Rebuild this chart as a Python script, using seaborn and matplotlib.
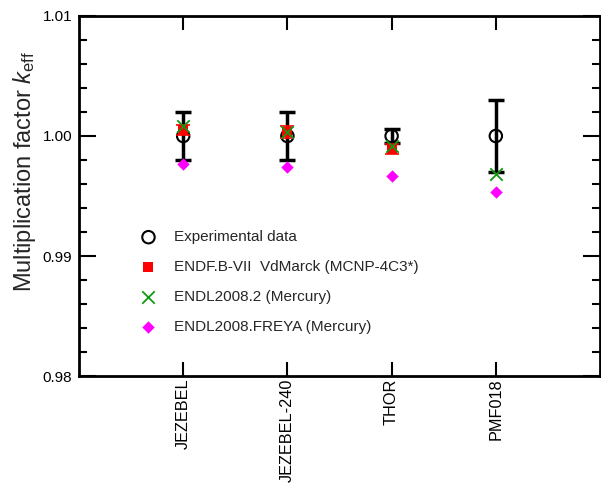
import numpy as np
import matplotlib
matplotlib.use("Agg")
import matplotlib.pyplot as plt
from matplotlib.ticker import MultipleLocator
import seaborn as sns

benchmarks = ["JEZEBEL", "JEZEBEL-240", "THOR", "PMF018"]

exp_keff = [1.0000, 1.0000, 1.0000, 1.0000]
exp_err = [0.0020, 0.0020, 0.0006, 0.0030]

endf_keff = [1.0005, 1.0003, 0.9989, np.nan]
endf_err = [0.0004, 0.0005, 0.0004, np.nan]

endl_keff = [1.0008, 1.0003, 0.9992, 0.9968]
freya_keff = [0.9977, 0.9974, 0.9967, 0.9953]

sns.set_style("ticks")
plt.rcParams["font.family"] = ["Liberation Sans", "DejaVu Sans"]
plt.rcParams["mathtext.fontset"] = "custom"
plt.rcParams["mathtext.rm"] = "Liberation Sans"
plt.rcParams["mathtext.it"] = "Liberation Sans:italic"

fig = plt.figure(figsize=(6.01, 4.83), dpi=100)
ax = fig.add_axes([0.1314, 0.2215, 0.867, 0.7454])

xpos = np.arange(1, len(benchmarks) + 1)

# experimental data with uncertainties
ax.errorbar(xpos, exp_keff, yerr=exp_err, fmt="none", ecolor="black",
            elinewidth=2.5, capsize=6, capthick=2.5, zorder=2)
sns.scatterplot(x=xpos, y=exp_keff, ax=ax, marker="o", s=80,
                facecolor="none", edgecolor="black", linewidth=1.5,
                label="Experimental data", zorder=3)

# ENDF/B-VII calculation
ax.errorbar(xpos, endf_keff, yerr=endf_err, fmt="none", ecolor="red",
            elinewidth=1.2, capsize=5, capthick=1.2, zorder=3)
sns.scatterplot(x=xpos, y=endf_keff, ax=ax, marker="s", s=45,
                color="red", edgecolor="red", linewidth=0,
                label="ENDF.B-VII  VdMarck (MCNP-4C3*)", zorder=4)

# ENDL2008.2
sns.scatterplot(x=xpos, y=endl_keff, ax=ax, marker="x", s=80,
                color="#119911", linewidth=1.3,
                label="ENDL2008.2 (Mercury)", zorder=5)

# ENDL2008 with FREYA
sns.scatterplot(x=xpos, y=freya_keff, ax=ax, marker="D", s=40,
                color="magenta", edgecolor="magenta", linewidth=0,
                label="ENDL2008.FREYA (Mercury)", zorder=5)

ax.set_xlim(0, 5)
ax.set_ylim(0.98, 1.01)
ax.set_xticks(xpos)
ax.set_xticklabels(benchmarks, rotation=90, fontsize=11.7)
ax.yaxis.set_minor_locator(MultipleLocator(0.002))
ax.set_yticks([0.98, 0.99, 1.00, 1.01])
ax.set_yticklabels(["0.98", "0.99", "1.00", "1.01"], fontsize=11)

ax.tick_params(axis="both", which="both", direction="in", top=True, right=True,
               width=1.5, colors="black")
ax.tick_params(axis="x", which="major", length=10, pad=2)
ax.tick_params(axis="y", which="major", length=12, pad=5)
ax.tick_params(axis="y", which="minor", length=6)
for s in ax.spines.values():
    s.set_linewidth(2)
    s.set_color("black")

ax.set_ylabel(r"Multiplication factor $\mathit{k}_{\rm eff}$", fontsize=17)
ax.yaxis.set_label_coords(-0.079, 0.569)

leg = ax.legend(loc="upper left", bbox_to_anchor=(0.107, 0.422), frameon=False,
                fontsize=11, handletextpad=1.2, labelspacing=1.05,
                borderaxespad=0, handlelength=1.0)

fig.savefig("out.png", dpi=100)
